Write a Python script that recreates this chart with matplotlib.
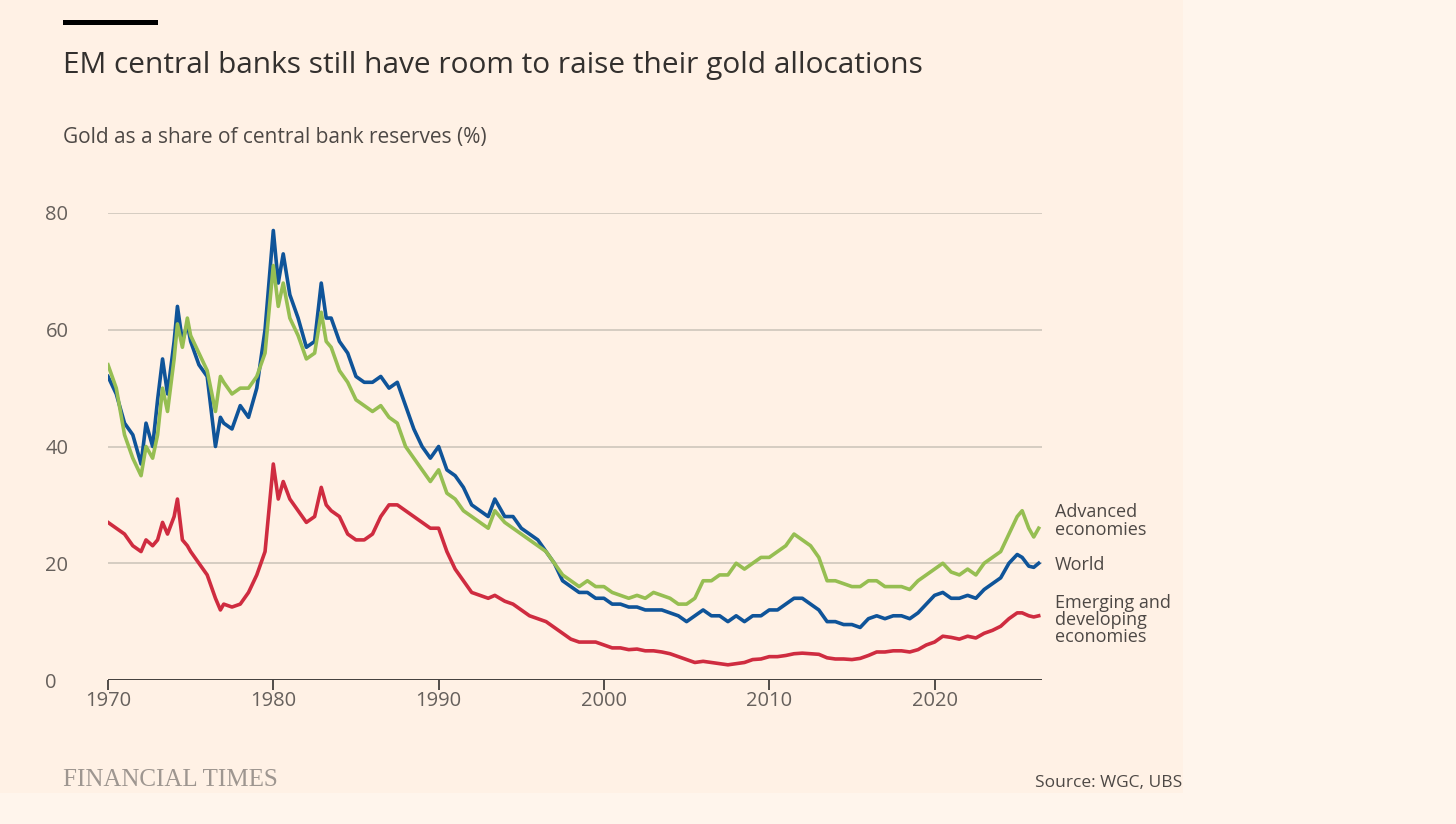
import numpy as np
import matplotlib
matplotlib.use("Agg")
import matplotlib.pyplot as plt
from matplotlib.patches import Rectangle

dates_a = [1970, 1970.5, 1971, 1971.5, 1972, 1972.3, 1972.7, 1973, 1973.3, 1973.6, 1974, 1974.2, 1974.5, 1974.8,
           1975, 1975.5, 1976, 1976.5, 1976.8, 1977, 1977.5, 1978, 1978.5, 1979, 1979.5, 1980, 1980.3, 1980.6,
           1981, 1981.5, 1982, 1982.5, 1982.9, 1983.2, 1983.5]
dates = np.array(dates_a + list(np.arange(1984, 1993.01, 0.5)) + [1993.4] +
                 list(np.arange(1994, 2024.51, 0.5)) + [2025, 2025.3, 2025.7, 2026, 2026.3])

world = [52, 49, 44, 42, 37, 44, 40, 48, 55, 49, 58, 64, 58, 61, 58, 54, 52, 40, 45, 44, 43, 47, 45, 50, 60,
         77, 68, 73, 66, 62, 57, 58, 68, 62, 62,
         58, 56, 52, 51, 51, 52, 50, 51, 47, 43, 40, 38, 40, 36, 35, 33, 30, 29, 28,
         31,
         28, 28, 26, 25, 24, 22, 20, 17, 16, 15, 15, 14,
         14, 13, 13, 12.5, 12.5, 12, 12, 12, 11.5, 11, 10, 11, 12, 11, 11, 10, 11, 10, 11, 11,
         12, 12, 13, 14, 14, 13, 12, 10, 10, 9.5, 9.5, 9, 10.5, 11, 10.5, 11, 11, 10.5, 11.5, 13,
         14.5, 15, 14, 14, 14.5, 14, 15.5, 16.5, 17.5, 20,
         21.5, 21, 19.5, 19.3, 20]
advanced = [54, 50, 42, 38, 35, 40, 38, 42, 50, 46, 55, 61, 57, 62, 59, 56, 53, 46, 52, 51, 49, 50, 50, 52, 56,
            71, 64, 68, 62, 59, 55, 56, 63, 58, 57,
            53, 51, 48, 47, 46, 47, 45, 44, 40, 38, 36, 34, 36, 32, 31, 29, 28, 27, 26,
            29,
            27, 26, 25, 24, 23, 22, 20, 18, 17, 16, 17, 16,
            16, 15, 14.5, 14, 14.5, 14, 15, 14.5, 14, 13, 13, 14, 17, 17, 18, 18, 20, 19, 20, 21,
            21, 22, 23, 25, 24, 23, 21, 17, 17, 16.5, 16, 16, 17, 17, 16, 16, 16, 15.5, 17, 18,
            19, 20, 18.5, 18, 19, 18, 20, 21, 22, 25,
            28, 29, 26, 24.5, 26]
emerging = [27, 26, 25, 23, 22, 24, 23, 24, 27, 25, 28, 31, 24, 23, 22, 20, 18, 14, 12, 13, 12.5, 13, 15, 18, 22,
            37, 31, 34, 31, 29, 27, 28, 33, 30, 29,
            28, 25, 24, 24, 25, 28, 30, 30, 29, 28, 27, 26, 26, 22, 19, 17, 15, 14.5, 14,
            14.5,
            13.5, 13, 12, 11, 10.5, 10, 9, 8, 7, 6.5, 6.5, 6.5,
            6, 5.5, 5.5, 5.2, 5.3, 5, 5, 4.8, 4.5, 4, 3.5, 3, 3.2, 3, 2.8, 2.6, 2.8, 3, 3.5, 3.6,
            4, 4, 4.2, 4.5, 4.6, 4.5, 4.4, 3.8, 3.6, 3.6, 3.5, 3.7, 4.2, 4.8, 4.8, 5, 5, 4.8, 5.2, 6,
            6.5, 7.5, 7.3, 7, 7.5, 7.2, 8, 8.5, 9.2, 10.5,
            11.5, 11.5, 11, 10.8, 11]

yticks = [0, 20, 40, 60, 80]
xticks = [1970, 1980, 1990, 2000, 2010, 2020]

BG = "#FFF1E5"
TXT = "#33302E"
plt.rcParams['font.family'] = ['Open Sans', 'DejaVu Sans']

fig = plt.figure(figsize=(14.56, 8.24), dpi=100)
fig.patch.set_facecolor("#FFF5EC")
fig.patches.append(Rectangle((0, 1 - 793 / 824), 1183 / 1456, 793 / 824, transform=fig.transFigure,
                             facecolor=BG, edgecolor='none', zorder=-10))
ax = fig.add_axes([108 / 1456, 1 - 680 / 824, (1042 - 108) / 1456, (680 - 213) / 824])
ax.set_zorder(5)
ax.patch.set_alpha(0)

ax.plot(dates, advanced, color="#96BE52", lw=2.6, zorder=3)
ax.plot(dates, world, color="#0F5499", lw=2.6, zorder=2)
ax.plot(dates, emerging, color="#CF2C40", lw=2.6, zorder=3)

ax.set_xlim(1970, 2026.5)
ax.set_ylim(0, 80)
ax.set_yticks(yticks)
ax.set_xticks(xticks)
for y in yticks[1:]:
    ax.axhline(y, color="#CEC6BC", lw=1.2, zorder=1)
ax.axhline(0, color="#33302E", lw=1.3, zorder=4)
for s in ax.spines.values():
    s.set_visible(False)
ax.tick_params(axis='y', length=0, labelsize=14.5, labelcolor="#66605C", pad=45)
for lbl in ax.get_yticklabels():
    lbl.set_horizontalalignment('left')
ax.tick_params(axis='x', length=7, width=1.2, color=TXT, labelsize=14.5, labelcolor="#66605C", pad=1)

fig.add_artist(Rectangle((63 / 1456, 1 - 25 / 824), 95 / 1456, 5 / 824, transform=fig.transFigure,
                         facecolor="#000000", edgecolor='none'))
fig.text(63 / 1456, 1 - 65 / 824, "EM central banks still have room to raise their gold allocations",
         fontsize=21.5, color=TXT, va='center')
fig.text(63 / 1456, 1 - 137 / 824, "Gold as a share of central bank reserves (%)",
         fontsize=15, color="#4D4845", va='center')

lx = 1055 / 1456
for y, t in [(521, "Advanced\neconomies"), (565, "World"), (620, "Emerging and\ndeveloping\neconomies")]:
    fig.text(lx, 1 - y / 824, t, fontsize=13, color="#4D4845", va='center', linespacing=0.95)

fig.text(63 / 1456, 1 - 780 / 824, "FINANCIAL TIMES", fontsize=18, color="#9E9690",
         family=['Liberation Serif', 'DejaVu Serif'], va='center')
fig.text(1182 / 1456, 1 - 783 / 824, "Source: WGC, UBS", fontsize=12.5, color="#4D4845",
         ha='right', va='center')

fig.savefig("out.png", dpi=100, facecolor=fig.get_facecolor())
